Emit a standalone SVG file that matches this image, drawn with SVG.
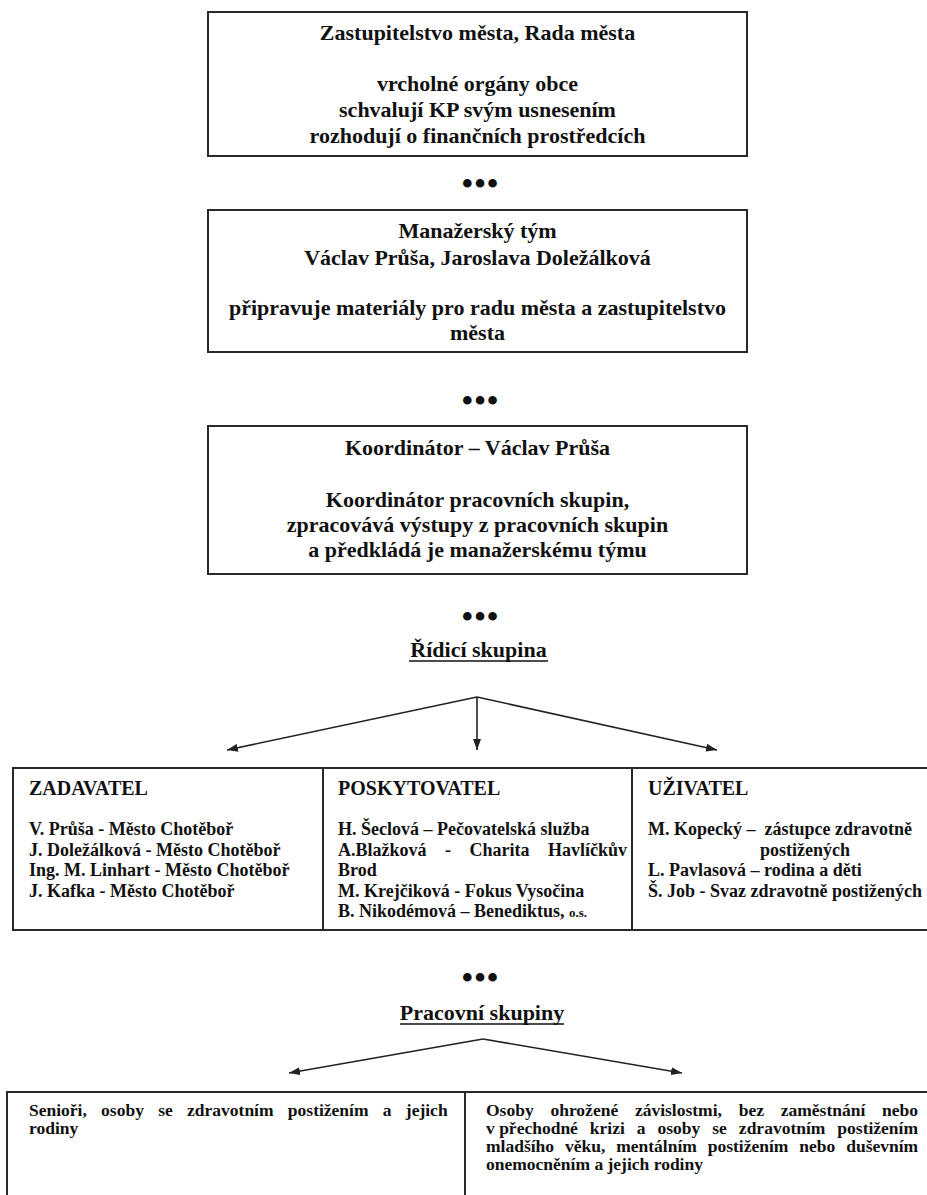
<svg xmlns="http://www.w3.org/2000/svg" width="927" height="1195" viewBox="0 0 927 1195">
<defs>
<style>
.box{fill:#fff;stroke:#2a2a2a;stroke-width:2}
.t{font-family:"Liberation Serif","Times New Roman",serif;font-weight:bold;fill:#111}
.c{text-anchor:middle;font-size:22px}
.h{font-size:20px}
.b{font-size:18px}
.s{font-size:17.5px}
.dots{font-family:"Liberation Serif","Times New Roman",serif;font-size:36px;text-anchor:middle;fill:#111}
.u{stroke:#111;stroke-width:1.5}
.conn line{stroke:#222;stroke-width:1.6}
</style>
<marker id="ah" viewBox="0 0 11 8" refX="11" refY="4" markerWidth="11" markerHeight="8" markerUnits="userSpaceOnUse" orient="auto">
<path d="M0,0 L11,4 L0,8 z" fill="#222"/>
</marker>
</defs>
<rect width="927" height="1195" fill="#fff"/>

<g id="zastupitelstvo">
<rect class="box" x="208" y="12" width="539" height="144"/>
<text class="t c" x="477.5" y="40">Zastupitelstvo města, Rada města</text>
<text class="t c" x="477.5" y="91">vrcholné orgány obce</text>
<text class="t c" x="477.5" y="117">schvalují KP svým usnesením</text>
<text class="t c" x="477.5" y="143">rozhodují o finančních prostředcích</text>
</g>
<text class="dots" x="480" y="196">•••</text>

<g id="manazersky-tym">
<rect class="box" x="208" y="210" width="539" height="142"/>
<text class="t c" x="477.5" y="238">Manažerský tým</text>
<text class="t c" x="477.5" y="265">Václav Průša, Jaroslava Doležálková</text>
<text class="t c" x="477.5" y="315">připravuje materiály pro radu města a zastupitelstvo</text>
<text class="t c" x="477.5" y="340">města</text>
</g>
<text class="dots" x="480" y="413">•••</text>

<g id="koordinator">
<rect class="box" x="208" y="426" width="539" height="148"/>
<text class="t c" x="477.5" y="455">Koordinátor – Václav Průša</text>
<text class="t c" x="477.5" y="507">Koordinátor pracovních skupin,</text>
<text class="t c" x="477.5" y="532">zpracovává výstupy z pracovních skupin</text>
<text class="t c" x="477.5" y="557">a předkládá je manažerskému týmu</text>
</g>
<text class="dots" x="480" y="629">•••</text>

<g id="ridici-skupina">
<text class="t c" x="478.5" y="657">Řídicí skupina</text>
<line class="u" x1="409" y1="661" x2="548" y2="661"/>
</g>

<g id="zadavatel">
<rect class="box" x="13" y="768" width="310" height="162"/>
<text class="t h" x="29" y="795">ZADAVATEL</text>
<text class="t b" x="29" y="835">V. Průša - Město Chotěboř</text>
<text class="t b" x="29" y="855.5">J. Doležálková - Město Chotěboř</text>
<text class="t b" x="29" y="876">Ing. M. Linhart - Město Chotěboř</text>
<text class="t b" x="29" y="896.5">J. Kafka - Město Chotěboř</text>
</g>

<g id="poskytovatel">
<rect class="box" x="323" y="768" width="309" height="162"/>
<text class="t h" x="338" y="795">POSKYTOVATEL</text>
<text class="t b" x="338" y="835">H. Šeclová – Pečovatelská služba</text>
<text class="t b" x="338" y="855.5" word-spacing="14">A.Blažková - Charita Havlíčkův</text>
<text class="t b" x="338" y="876">Brod</text>
<text class="t b" x="338" y="896.5">M. Krejčiková - Fokus Vysočina</text>
<text class="t b" x="338" y="917">B. Nikodémová – Benediktus, <tspan font-size="13">o.s.</tspan></text>
</g>

<g id="uzivatel">
<rect class="box" x="632" y="768" width="311" height="162"/>
<text class="t h" x="648" y="795">UŽIVATEL</text>
<text class="t b" x="648" y="835">M. Kopecký –&#160; zástupce zdravotně</text>
<text class="t b" x="760" y="855.5">postižených</text>
<text class="t b" x="648" y="876">L. Pavlasová – rodina a děti</text>
<text class="t b" x="648" y="896.5">Š. Job - Svaz zdravotně postižených</text>
</g>

<text class="dots" x="480" y="990">•••</text>

<g id="pracovni-skupiny">
<text class="t c" x="482" y="1020">Pracovní skupiny</text>
<line class="u" x1="400" y1="1024" x2="564" y2="1024"/>
</g>

<g id="seniori">
<rect class="box" x="7" y="1092" width="458" height="200"/>
<text class="t s" x="29" y="1116" word-spacing="9.9">Senioři, osoby se zdravotním postižením a jejich</text>
<text class="t s" x="29" y="1134">rodiny</text>
</g>

<g id="osoby-ohrozene">
<rect class="box" x="465" y="1092" width="480" height="200"/>
<text class="t s" x="486" y="1116" word-spacing="12.4">Osoby ohrožené závislostmi, bez zaměstnání nebo</text>
<text class="t s" x="486" y="1134" word-spacing="7.6">v<tspan word-spacing="0"> </tspan>přechodné krizi a osoby se zdravotním postižením</text>
<text class="t s" x="486" y="1152" word-spacing="6.5">mladšího věku, mentálním postižením nebo duševním</text>
<text class="t s" x="486" y="1170">onemocněním a jejich rodiny</text>
</g>

<g id="connectors" class="conn">
<line x1="477" y1="697" x2="227" y2="750" marker-end="url(#ah)"/>
<line x1="477" y1="697" x2="477" y2="750" marker-end="url(#ah)"/>
<line x1="477" y1="697" x2="717" y2="750" marker-end="url(#ah)"/>
<line x1="483" y1="1039" x2="289" y2="1073" marker-end="url(#ah)"/>
<line x1="483" y1="1039" x2="682" y2="1073" marker-end="url(#ah)"/>
</g>
</svg>
